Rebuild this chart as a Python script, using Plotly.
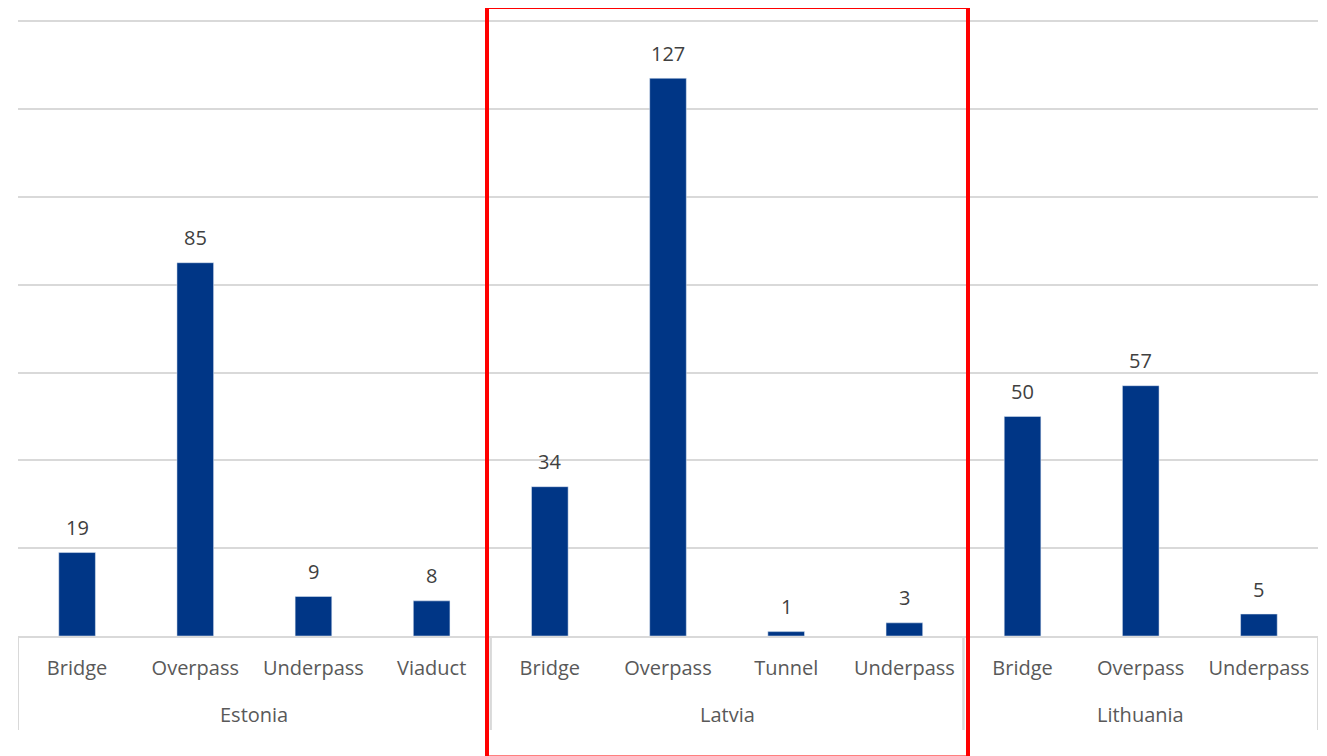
import plotly.graph_objects as go

countries = ["Estonia", "Estonia", "Estonia", "Estonia",
             "Latvia", "Latvia", "Latvia", "Latvia",
             "Lithuania", "Lithuania", "Lithuania"]
types = ["Bridge", "Overpass", "Underpass", "Viaduct",
         "Bridge", "Overpass", "Tunnel", "Underpass",
         "Bridge", "Overpass", "Underpass"]
counts = [19, 85, 9, 8, 34, 127, 1, 3, 50, 57, 5]

FONT = "Open Sans"
PAGE_OFF = 8  # default body margin of the page
W, H = 1319, 748
ML, MR, MT, MB = 10, 9, 11, 120
PW, PH = W - ML - MR, H - MT - MB
BASE = PAGE_OFF + MT + PH  # absolute y of the baseline
LEFT = PAGE_OFF + ML       # absolute x of plot left edge
GRAY = "#d9d9d9"

idx = list(range(len(types)))

fig = go.Figure(go.Bar(
    x=idx,
    y=counts,
    marker_color="#003686",
    width=0.31,
    hoverinfo="y",
))

# data labels
for i, v in zip(idx, counts):
    fig.add_annotation(x=i, y=v, xref="x", yref="y", text=str(v),
                       showarrow=False, yanchor="middle", yshift=25,
                       font=dict(family=FONT, size=20, color="#404040"))

# group labels and dividers
groups = []
for i, c in enumerate(countries):
    if not groups or groups[-1][0] != c:
        groups.append([c, i, i])
    else:
        groups[-1][2] = i

div_y = -(730 - BASE) / PH
shapes = []
for name, a, b in groups:
    fig.add_annotation(x=(a + b) / 2, y=-(714 - BASE) / PH, xref="x", yref="paper",
                       text=name, showarrow=False, yanchor="middle",
                       font=dict(family=FONT, size=20, color="#595959"))
    for edge in (a - 0.5, b + 0.5):
        shapes.append(dict(type="line", xref="x", yref="paper",
                           x0=edge, x1=edge, y0=0, y1=div_y,
                           line=dict(color=GRAY, width=2)))

# highlight box around Latvia
shapes.append(dict(
    type="rect", xref="paper", yref="paper",
    x0=(487 - LEFT) / PW, x1=(968 - LEFT) / PW,
    y0=-(757.5 - BASE) / PH, y1=(BASE - 7) / PH,
    line=dict(color="#ff0000", width=4),
    fillcolor="rgba(0,0,0,0)",
))

fig.update_layout(
    width=W, height=H,
    margin=dict(l=ML, r=MR, t=MT, b=MB),
    plot_bgcolor="white", paper_bgcolor="white",
    showlegend=False,
    font=dict(family=FONT, size=20, color="#595959"),
    xaxis=dict(
        tickmode="array", tickvals=idx, ticktext=types,
        range=[-0.5, len(types) - 0.5],
        showline=True, linecolor=GRAY, linewidth=2,
        tickfont=dict(family=FONT, size=20, color="#595959"),
        ticks="", ticklabelstandoff=13,
        showgrid=False, zeroline=False, automargin=False, fixedrange=True,
    ),
    yaxis=dict(
        range=[0, 140.5], tickmode="linear", tick0=0, dtick=20,
        showticklabels=False,
        showgrid=True, gridcolor=GRAY, gridwidth=1.5,
        zeroline=False, showline=False, automargin=False, fixedrange=True,
    ),
    shapes=shapes,
)

fig.write_html("out.html")
